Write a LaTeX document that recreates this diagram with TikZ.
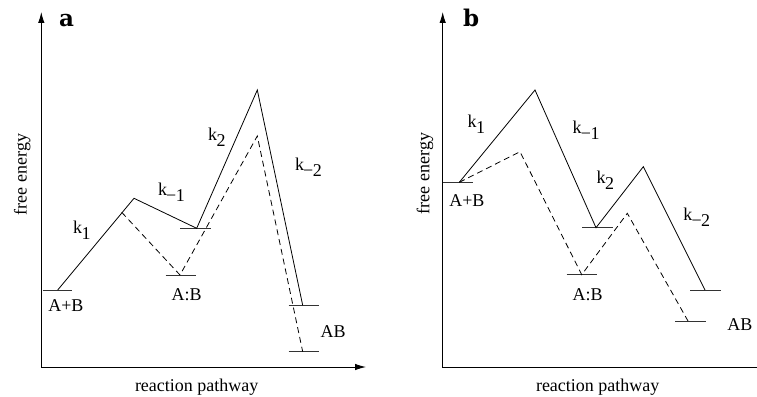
\documentclass[tikz,border=0pt]{standalone}
\usepackage{fontspec}
\setmainfont{Liberation Serif}
\newfontfamily\labfont{DejaVu Serif}
\usetikzlibrary{arrows.meta}
\newcommand{\kp}[1]{k\kern-0.5pt\raisebox{-6pt}{#1}}
\newcommand{\kn}[1]{k\kern-0.8pt\raisebox{-6pt}{\symbol{"2212}\kern-0.5pt#1}}
\begin{document}
\begin{tikzpicture}[x=1pt,y=-1pt,
  every node/.style={inner sep=0pt,outer sep=0pt,font=\fontsize{18}{20}\selectfont},
  axis/.style={line width=0.9pt,-{Latex[length=11pt,width=6.5pt]}},
  solidcurve/.style={line width=0.8pt,line join=miter},
  dashcurve/.style={line width=0.8pt,dash pattern=on 6pt off 4pt},
  level/.style={line width=1pt,draw=black!80},
  panel/.style={font=\labfont\bfseries\fontsize{23}{25}\selectfont}]
\useasboundingbox (0,0) rectangle (757,396);
% ---------------- panel a ----------------
\coordinate (aO) at (41.3,367);
\coordinate (aY) at (41.3,12);
\coordinate (aX) at (366,367);
\draw[axis] (aO) -- (aY);
\draw[axis] (aO) -- (aX);
\node[panel,anchor=base west] (alab) at (59,26.7) {a};
\node[rotate=90,anchor=base west] (afe) at (26.7,215) {free energy};
\node[anchor=base west] (arp) at (135,391.7) {reaction pathway};
% levels
\coordinate (aL1a) at (42.7,290);   \coordinate (aL1b) at (71.7,290);
\coordinate (aL2a) at (180,228.3);  \coordinate (aL2b) at (210.7,228.3);
\coordinate (aL3a) at (165.7,275);  \coordinate (aL3b) at (195.7,275);
\coordinate (aL4a) at (288.7,305.3);\coordinate (aL4b) at (319,305.3);
\coordinate (aL5a) at (288.7,351.7);\coordinate (aL5b) at (319,351.7);
\draw[level] (aL1a) -- (aL1b);
\draw[level] (aL2a) -- (aL2b);
\draw[level] (aL3a) -- (aL3b);
\draw[level] (aL4a) -- (aL4b);
\draw[level] (aL5a) -- (aL5b);
% solid path
\coordinate (aS0) at (57.7,290);
\coordinate (aS1) at (134,198.3);
\coordinate (aS2) at (196.7,228.3);
\coordinate (aS3) at (257.3,90);
\coordinate (aS4) at (302.7,305.3);
\draw[solidcurve] (aS0) -- (aS1) -- (aS2) -- (aS3) -- (aS4);
% dashed path
\coordinate (aD0) at (121.7,212.3);
\coordinate (aD1) at (180,275);
\coordinate (aD2) at (257.3,136);
\coordinate (aD3) at (302.7,351.7);
\draw[dashcurve] (aD0) -- (aD1) -- (aD2) -- (aD3);
% labels
\node[anchor=base west] (ak1) at (73,233) {\kp{1}};
\node[anchor=base west] (akm1) at (158,195) {\kn{1}};
\node[anchor=base west] (ak2) at (208,140) {\kp{2}};
\node[anchor=base west] (akm2) at (295,170) {\kn{2}};
\node[anchor=base west] (aAB1) at (48.3,311.7) {A+B};
\node[anchor=base west] (aAB2) at (171.7,300) {A:B};
\node[anchor=base west] (aAB3) at (320.7,337.3) {AB};
% ---------------- panel b ----------------
\coordinate (bO) at (442.7,367.7);
\coordinate (bY) at (442.7,12);
\coordinate (bX) at (768,367.7);
\draw[axis] (bO) -- (bY);
\draw[axis] (bO) -- (bX);
\node[panel,anchor=base west] (blab) at (463,26.7) {b};
\node[rotate=90,anchor=base west] (bfe) at (429.3,214) {free energy};
\node[anchor=base west] (brp) at (536,391.7) {reaction pathway};
% levels
\coordinate (bL1a) at (442.7,182.3); \coordinate (bL1b) at (473.3,182.3);
\coordinate (bL2a) at (582.3,227.7); \coordinate (bL2b) at (612.7,227.7);
\coordinate (bL3a) at (566.7,274.7); \coordinate (bL3b) at (596.7,274.7);
\coordinate (bL4a) at (690.3,290);   \coordinate (bL4b) at (720.7,290);
\coordinate (bL5a) at (675,321);     \coordinate (bL5b) at (705.7,321);
\draw[level] (bL1a) -- (bL1b);
\draw[level] (bL2a) -- (bL2b);
\draw[level] (bL3a) -- (bL3b);
\draw[level] (bL4a) -- (bL4b);
\draw[level] (bL5a) -- (bL5b);
% solid path
\coordinate (bS0) at (459.3,182.3);
\coordinate (bS1) at (535,90);
\coordinate (bS2) at (596,227.7);
\coordinate (bS3) at (643.3,166.7);
\coordinate (bS4) at (705,290);
\draw[solidcurve] (bS0) -- (bS1) -- (bS2) -- (bS3) -- (bS4);
% dashed path
\coordinate (bD1) at (520,151.7);
\coordinate (bD2) at (581.7,274.7);
\coordinate (bD3) at (627.3,213.3);
\coordinate (bD4) at (688,321);
\draw[dashcurve] (bS0) -- (bD1) -- (bD2) -- (bD3) -- (bD4);
% labels
\node[anchor=base west] (bk1) at (467.7,127.7) {\kp{1}};
\node[anchor=base west] (bkm1) at (572.7,133.3) {\kn{1}};
\node[anchor=base west] (bk2) at (596.7,183.3) {\kp{2}};
\node[anchor=base west] (bkm2) at (683.3,220) {\kn{2}};
\node[anchor=base west] (bAB1) at (449.3,206.7) {A+B};
\node[anchor=base west] (bAB2) at (572.7,300) {A:B};
\node[anchor=base west] (bAB3) at (727.3,330) {AB};
\end{tikzpicture}
\end{document}
